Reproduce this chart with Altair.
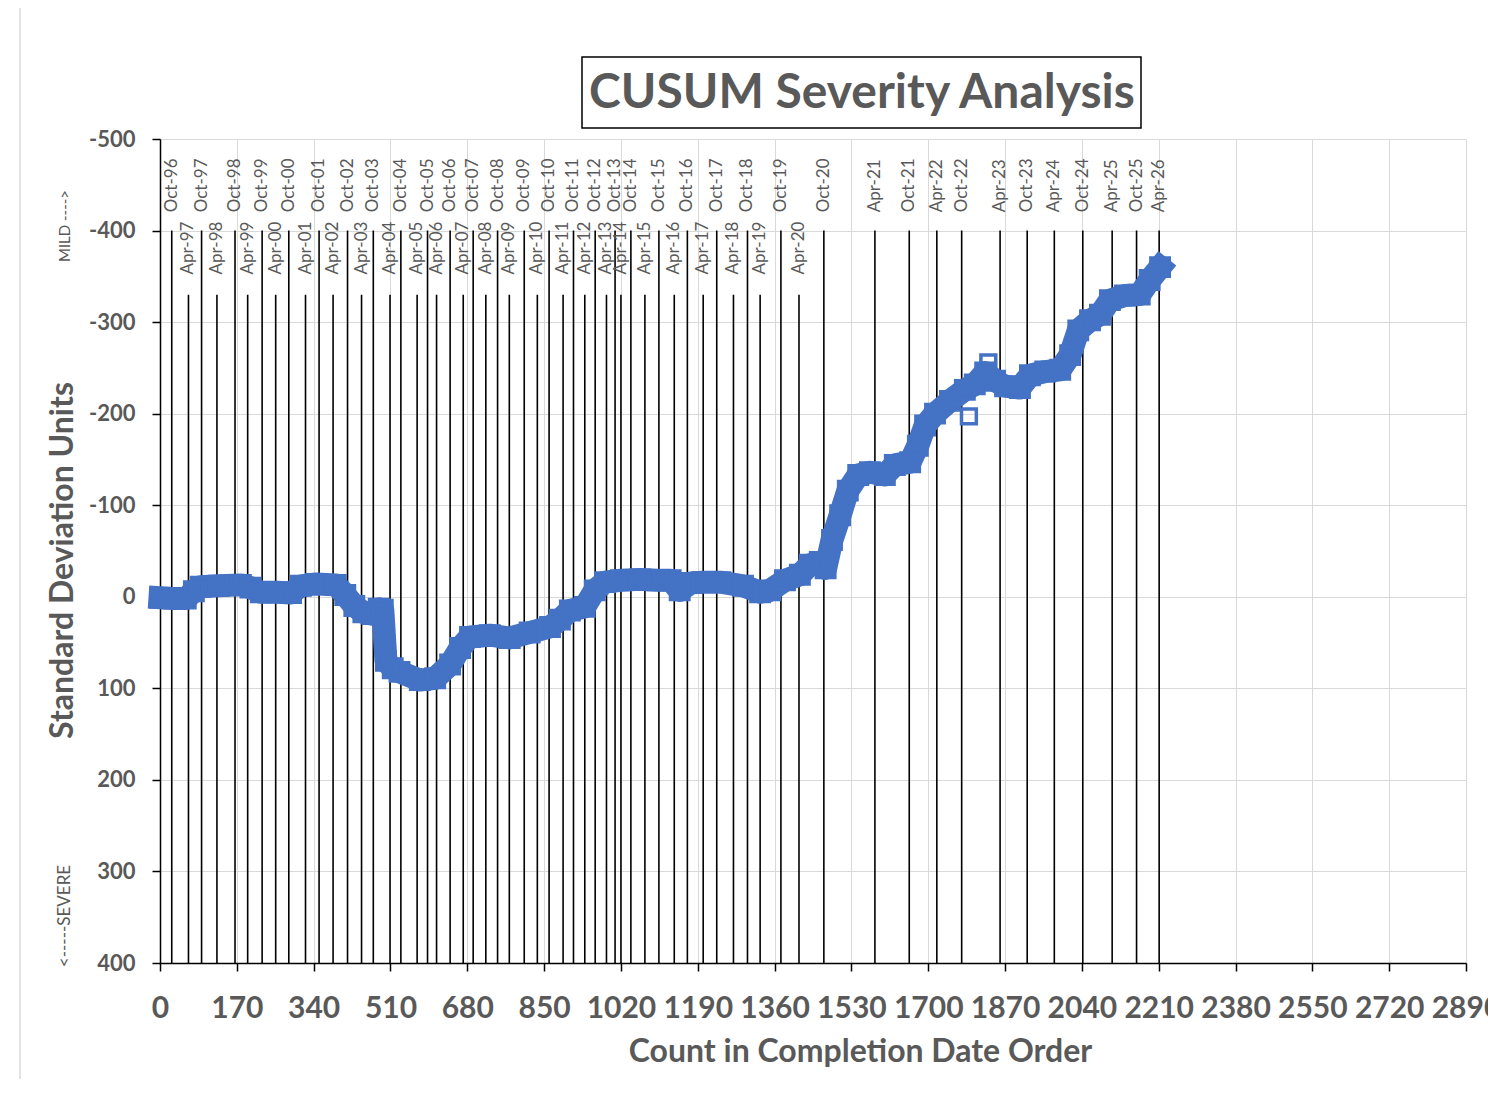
import altair as alt
import pandas as pd

# ---- CUSUM series (count in completion order, standard deviation units) ----
count_x = [0, 30, 57, 75, 90, 130, 179, 200, 223, 260, 290, 312, 345, 389, 410, 430,
           450, 470, 484, 493, 500, 515, 530, 575, 609, 642, 664, 686, 730, 774, 818,
           863, 885, 907, 940, 962, 985, 1020, 1063, 1100, 1130, 1150, 1175, 1200, 1240,
           1290, 1328, 1350, 1383, 1416, 1438, 1460, 1473, 1487, 1505, 1522, 1545, 1571,
           1604, 1626, 1660, 1677, 1693, 1715, 1748, 1781, 1803, 1826, 1848, 1870, 1903,
           1925, 1959, 1992, 2014, 2032, 2058, 2080, 2102, 2135, 2168, 2190, 2213]
cusum = [1, 2, 2, -6, -11, -12, -13, -10, -5, -5, -4, -12, -14, -13, -2, 10,
         17, 19, 13, 14, 70, 78, 82, 91, 89, 74, 56, 44, 42, 45, 39,
         33, 25, 15, 11, -7, -16, -18, -19, -18, -18, -7, -15, -16, -16,
         -12, -5, -7, -18, -24, -35, -38, -31, -62, -89, -116, -133, -136,
         -133, -144, -147, -165, -187, -200, -214, -226, -232, -245, -236, -230, -228,
         -242, -246, -248, -264, -291, -302, -308, -324, -329, -330, -346, -360]

outlier_x = [494, 1790, 1833]
outlier_y = [47, -197, -256]

# ---- date marker lines ----
oct_labels = ["Oct-96", "Oct-97", "Oct-98", "Oct-99", "Oct-00", "Oct-01", "Oct-02", "Oct-03",
              "Oct-04", "Oct-05", "Oct-06", "Oct-07", "Oct-08", "Oct-09", "Oct-10", "Oct-11",
              "Oct-12", "Oct-13", "Oct-14", "Oct-15", "Oct-16", "Oct-17", "Oct-18", "Oct-19",
              "Oct-20", "Oct-21", "Oct-22", "Oct-23", "Oct-24", "Oct-25"]
oct_x = [26, 92, 166, 226, 285, 352, 415, 472, 533, 592, 642, 693, 747, 806, 861, 915,
         963, 1007, 1042, 1104, 1167, 1232, 1300, 1374, 1469, 1658, 1774, 1919, 2042, 2161]
apr_labels = ["Apr-97", "Apr-98", "Apr-99", "Apr-00", "Apr-01", "Apr-02", "Apr-03", "Apr-04",
              "Apr-05", "Apr-06", "Apr-07", "Apr-08", "Apr-09", "Apr-10", "Apr-11", "Apr-12",
              "Apr-13", "Apr-14", "Apr-15", "Apr-16", "Apr-17", "Apr-18", "Apr-19", "Apr-20",
              "Apr-21", "Apr-22", "Apr-23", "Apr-24", "Apr-25", "Apr-26"]
apr_x = [63, 126, 194, 256, 322, 383, 446, 509, 569, 612, 671, 721, 773, 835, 892, 940,
         988, 1020, 1073, 1138, 1202, 1269, 1328, 1414, 1582, 1719, 1859, 1979, 2107, 2211]

x_ticks = list(range(0, 2891, 170))
y_ticks = list(range(-500, 401, 100))

GRAY = "#595959"
BLUE = "#4472C4"
FONT = "Lato"

series = pd.DataFrame({"x": count_x, "y": cusum})
outliers = pd.DataFrame({"x": outlier_x, "y": outlier_y})

rows = []
for lab, xv in zip(oct_labels, oct_x):
    rows.append({"label": lab, "x": xv, "top": -400, "bottom": 400, "ly": -420})
for lab, xv in zip(apr_labels, apr_x):
    yr = int(lab[-2:])
    if 20 < yr < 90:
        rows.append({"label": lab, "x": xv, "top": -400, "bottom": 400, "ly": -420})
    else:
        rows.append({"label": lab, "x": xv, "top": -330, "bottom": 400, "ly": -352})
markers = pd.DataFrame(rows)

xscale = alt.Scale(domain=[0, 2890], nice=False, zero=False)
yscale = alt.Scale(domain=[-500, 400], reverse=True, nice=False, zero=False)

xaxis = alt.Axis(values=x_ticks, labelExpr="'' + datum.value", labelFont=FONT,
                 labelFontSize=30, labelFontWeight="bold",
                 labelColor=GRAY, labelPadding=22, tickSize=8, tickColor="black",
                 domainColor="black", domainWidth=1.5, tickWidth=1.5,
                 gridColor="#d9d9d9", labelFlush=False, labelOverlap=False,
                 title="Count in Completion Date Order", titleFont=FONT, titleFontSize=32,
                 titleFontWeight="bold", titleColor=GRAY, titleX=700, titleY=88,
                 titleBaseline="middle", titleAlign="center")
yaxis = alt.Axis(values=y_ticks, labelExpr="'' + datum.value", labelFont=FONT,
                 labelFontSize=22, labelFontWeight="bold", labelColor=GRAY,
                 labelPadding=17, tickSize=8, tickColor="black", domainColor="black",
                 domainWidth=1.5, tickWidth=1.5, gridColor="#d9d9d9", labelOverlap=False,
                 title="Standard Deviation Units", titleFont=FONT, titleFontSize=32,
                 titleFontWeight="bold", titleColor=GRAY, titleX=-98, titleY=421,
                 titleAngle=270, titleAlign="center", titleBaseline="middle")

base_axes = alt.Chart(series).mark_line(opacity=0).encode(
    x=alt.X("x:Q", scale=xscale, axis=xaxis),
    y=alt.Y("y:Q", scale=yscale, axis=yaxis),
)

rules = alt.Chart(markers).mark_rule(color="black", strokeWidth=1.6).encode(
    x=alt.X("x:Q", scale=xscale),
    y=alt.Y("top:Q", scale=yscale),
    y2="bottom:Q",
)

labels = alt.Chart(markers).mark_text(
    angle=270, align="left", baseline="middle", font=FONT, fontSize=17, color=GRAY
).encode(
    x=alt.X("x:Q", scale=xscale),
    y=alt.Y("ly:Q", scale=yscale),
    text="label:N",
)

line = alt.Chart(series).mark_line(
    color=BLUE, strokeWidth=23, strokeJoin="round", strokeCap="square"
).encode(
    x=alt.X("x:Q", scale=xscale),
    y=alt.Y("y:Q", scale=yscale),
)

pts = alt.Chart(series).mark_point(
    shape="square", filled=False, size=320, strokeWidth=4, color=BLUE, opacity=1
).encode(
    x=alt.X("x:Q", scale=xscale),
    y=alt.Y("y:Q", scale=yscale),
)

out_pts = alt.Chart(outliers).mark_point(
    shape="square", filled=False, size=220, strokeWidth=3.5, color=BLUE, opacity=1
).encode(
    x=alt.X("x:Q", scale=xscale),
    y=alt.Y("y:Q", scale=yscale),
)

one = pd.DataFrame({"a": [0]})

title_box = alt.Chart(one).mark_rect(fill="white", stroke="black", strokeWidth=1.5).encode(
    x=alt.value(422), x2=alt.value(981), y=alt.value(-82), y2=alt.value(-11)
)
title_text = alt.Chart(one).mark_text(
    font=FONT, fontSize=48, fontWeight="bold", color=GRAY, align="center", baseline="middle"
).encode(x=alt.value(702), y=alt.value(-45), text=alt.value("CUSUM Severity Analysis"))

mild = alt.Chart(one).mark_text(
    angle=270, font=FONT, fontSize=15, color=GRAY, align="center", baseline="middle"
).encode(x=alt.value(-95), y=alt.value(87), text=alt.value("MILD ---->"))
severe = alt.Chart(one).mark_text(
    angle=270, font=FONT, fontSize=17, color=GRAY, align="center", baseline="middle"
).encode(x=alt.value(-95), y=alt.value(777), text=alt.value("<-----SEVERE"))

border = alt.Chart(one).mark_rule(color="#d9d9d9", strokeWidth=1.5).encode(
    x=alt.value(-140), y=alt.value(-131), y2=alt.value(960)
)

chart = alt.layer(
    border, base_axes, rules, labels, line, pts, out_pts, title_box, title_text, mild, severe
).properties(
    width=1306, height=824,
    autosize=alt.AutoSizeParams(type="none"),
    padding={"left": 152, "top": 131, "right": 22, "bottom": 116},
).configure_view(stroke=None)

chart.save("out.html", embed_options={"renderer": "svg", "actions": False})
